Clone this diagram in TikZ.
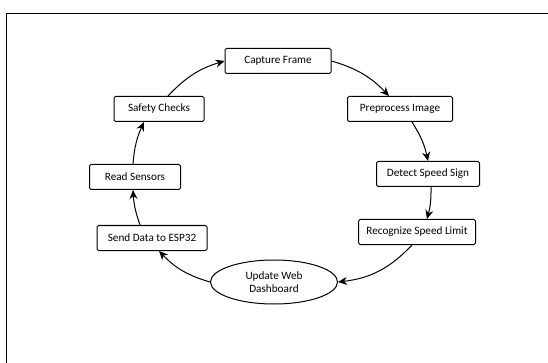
\documentclass[tikz,border=0pt]{standalone}
\usepackage{fontspec}
\setmainfont{Carlito}
\usetikzlibrary{arrows.meta,shapes.geometric}

\begin{document}
\begin{tikzpicture}[x=1pt, y=-1pt,
  block/.style={draw, line width=1pt, rounded corners=1.5pt, minimum height=25pt, inner xsep=4pt, font=\fontsize{11.2}{12}\selectfont},
  oval/.style={draw, ellipse, line width=1pt, minimum width=127pt, minimum height=44pt, inner sep=1pt, align=center, font=\fontsize{11.2}{13.5}\selectfont},
  flow/.style={-{Stealth[length=9pt, width=8pt]}, line width=1pt}]

  \useasboundingbox (0,0) rectangle (548,363);
  % outer frame
  \draw[line width=1.4pt] (6.5,364) |- (549,13.5);

  % Top and right side
  \node[block, minimum width=106pt] (capture) at (278,61) {Capture Frame};
  \node[block, minimum width=105pt] (prep) at (400,109) {Preprocess Image};
  \node[block, minimum width=103pt] (detect) at (428,174) {Detect Speed Sign};
  \node[block, minimum width=117pt] (recog) at (417,232) {Recognize Speed Limit};

  % Bottom
  \node[oval] (dash) at (274,282) {Update Web\\Dashboard};

  % Left side
  \node[block, minimum width=110pt] (send) at (152,238) {Send Data to ESP32};
  \node[block, minimum width=91pt] (read) at (135,177) {Read Sensors};
  \node[block, minimum width=90pt] (safety) at (159,109) {Safety Checks};

  % Loop arrows
  \draw[flow] (capture.east) to[bend left=15] ([xshift=-11pt]prep.north);
  \draw[flow] ([xshift=12pt]prep.south) to[bend left=10] (detect.north);
  \draw[flow] ([xshift=3pt]detect.south) to[bend left=8] ([xshift=10pt]recog.north);
  \draw[flow] ([xshift=-5pt]recog.south) to[bend left=20] (dash.east);
  \draw[flow] (dash.west) to[bend left=15] ([xshift=7pt]send.south);
  \draw[flow] ([xshift=-12pt]send.north) to[bend left=8] ([xshift=-2pt]read.south);
  \draw[flow] ([xshift=-2pt]read.north) to[bend left=10] ([xshift=-15pt]safety.south);
  \draw[flow] ([xshift=9pt]safety.north) to[bend left=15] (capture.west);

\end{tikzpicture}
\end{document}
